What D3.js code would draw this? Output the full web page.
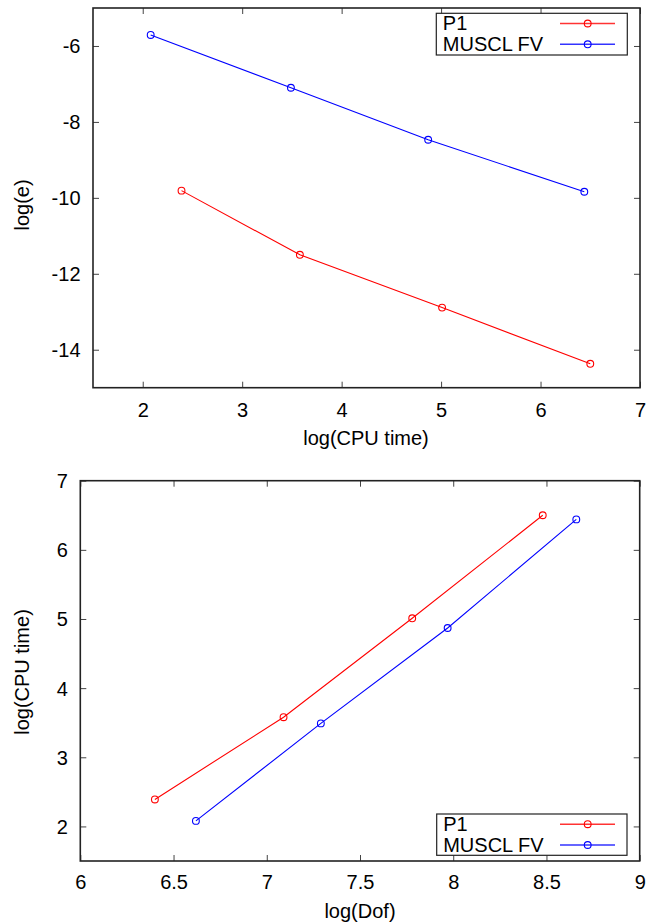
<!DOCTYPE html>
<html><head><meta charset="utf-8">
<script src="https://cdn.jsdelivr.net/npm/d3@7"></script>
<style>
html,body{margin:0;padding:0;background:#fff;}
svg text{font-family:"Liberation Sans",Arial,sans-serif;font-size:20px;fill:#000;}
</style></head>
<body><svg id="c" width="648" height="924"></svg>
<script>
// Data
const seriesNames = ["P1", "MUSCL FV"];
const seriesColors = ["#ff0000", "#0000ff"];
const cpuP1 = [2.39, 3.58, 5.01, 6.50];
const errP1 = [-9.81, -11.50, -12.89, -14.37];
const cpuFV = [2.08, 3.49, 4.87, 6.44];
const errFV = [-5.71, -7.10, -8.47, -9.84];
const dofP1 = [6.40, 7.09, 7.78, 8.48];
const dofFV = [6.62, 7.29, 7.97, 8.66];
const topXTicks = [2, 3, 4, 5, 6, 7];
const topYTicks = [-6, -8, -10, -12, -14];
const botXTicks = [6, 6.5, 7, 7.5, 8, 8.5, 9];
const botYTicks = [2, 3, 4, 5, 6, 7];

const svg = d3.select("#c");
const fmt = d => String(d);

function panel(opt) {
  const g = svg.append("g");
  const x = d3.scaleLinear().domain(opt.xDomain).range([opt.left, opt.right]);
  const y = d3.scaleLinear().domain(opt.yDomain).range([opt.bottom, opt.top]);
  const tk = 6;
  const ax = g.append("g").attr("transform", `translate(0,${opt.bottom})`)
    .call(d3.axisBottom(x).tickValues(opt.xTicks).tickSizeInner(-tk).tickSizeOuter(0).tickPadding(opt.xPad).tickFormat(fmt));
  const axT = g.append("g").attr("transform", `translate(0,${opt.top})`)
    .call(d3.axisTop(x).tickValues(opt.xTicks).tickSizeInner(-tk).tickSizeOuter(0).tickFormat(""));
  const ay = g.append("g").attr("transform", `translate(${opt.left},0)`)
    .call(d3.axisLeft(y).tickValues(opt.yTicks).tickSizeInner(-tk).tickSizeOuter(0).tickPadding(12.5).tickFormat(fmt));
  const ayR = g.append("g").attr("transform", `translate(${opt.right},0)`)
    .call(d3.axisRight(y).tickValues(opt.yTicks).tickSizeInner(-tk).tickSizeOuter(0).tickFormat(""));
  [ax, axT, ay, ayR].forEach(a => {
    a.select(".domain").remove();
    a.selectAll(".tick line").attr("stroke", "#444").attr("stroke-width", 1);
    a.selectAll("text").attr("font-size", 20).attr("font-family", "Liberation Sans, Arial, sans-serif").attr("fill", "#000");
  });
  ay.selectAll("text").attr("dy", "0.35em");
  ax.selectAll("text").attr("dy", "0.71em");

  opt.series.forEach((s, i) => {
    const pts = s.xs.map((v, k) => [v, s.ys[k]]);
    g.append("path").datum(pts)
      .attr("d", d3.line().x(d => x(d[0])).y(d => y(d[1])))
      .attr("fill", "none").attr("stroke", seriesColors[i]).attr("stroke-width", 1.1);
    g.selectAll(null).data(pts).enter().append("circle")
      .attr("cx", d => x(d[0])).attr("cy", d => y(d[1])).attr("r", 3.4)
      .attr("fill", "none").attr("stroke", seriesColors[i]).attr("stroke-width", 1.1);
  });

  g.append("rect").attr("x", opt.left).attr("y", opt.top)
    .attr("width", opt.right - opt.left).attr("height", opt.bottom - opt.top)
    .attr("fill", "none").attr("stroke", "#222").attr("stroke-width", 1.6);

  const L = opt.legend;
  g.append("rect").attr("x", L.x0).attr("y", L.y0).attr("width", L.x1 - L.x0).attr("height", L.y1 - L.y0)
    .attr("fill", "#fff").attr("stroke", "#222").attr("stroke-width", 1.2);
  seriesNames.forEach((n, i) => {
    const base = L.base + i * 20.8;
    const cy = base - 6.5;
    g.append("text").attr("x", L.x0 + 6.5).attr("y", base).text(n);
    g.append("line").attr("x1", 560).attr("x2", 615).attr("y1", cy).attr("y2", cy)
      .attr("stroke", seriesColors[i]).attr("stroke-width", 1.4).attr("stroke-opacity", 0.8);
    g.append("circle").attr("cx", 587.7).attr("cy", cy).attr("r", 3.4)
      .attr("fill", "none").attr("stroke", seriesColors[i]).attr("stroke-width", 1.1);
  });

  g.append("text").attr("x", opt.xLabelX).attr("y", opt.xLabelY)
    .attr("text-anchor", "middle").text(opt.xLabel);
  g.append("text").attr("transform", `translate(29,${opt.yLabelY}) rotate(-90)`)
    .attr("text-anchor", "middle").text(opt.yLabel);
}

panel({
  xDomain: [1.5, 7], yDomain: [-15, -5],
  left: 93, right: 640, top: 8, bottom: 387.7,
  xTicks: topXTicks, yTicks: topYTicks, xPad: 15.5,
  xLabel: "log(CPU time)", yLabel: "log(e)", xLabelX: 366, xLabelY: 445, yLabelY: 205,
  series: [{xs: cpuP1, ys: errP1}, {xs: cpuFV, ys: errFV}],
  legend: {x0: 436.3, x1: 627.3, y0: 13.3, y1: 55, base: 30}
});

panel({
  xDomain: [6, 9], yDomain: [1.5, 7],
  left: 80.3, right: 639.7, top: 480.7, bottom: 861,
  xTicks: botXTicks, yTicks: botYTicks, xPad: 14,
  xLabel: "log(Dof)", yLabel: "log(CPU time)", xLabelX: 360, xLabelY: 918, yLabelY: 672,
  series: [{xs: dofP1, ys: cpuP1}, {xs: dofFV, ys: cpuFV}],
  legend: {x0: 436.7, x1: 627, y0: 814, y1: 855.3, base: 830.7}
});
</script></body></html>
